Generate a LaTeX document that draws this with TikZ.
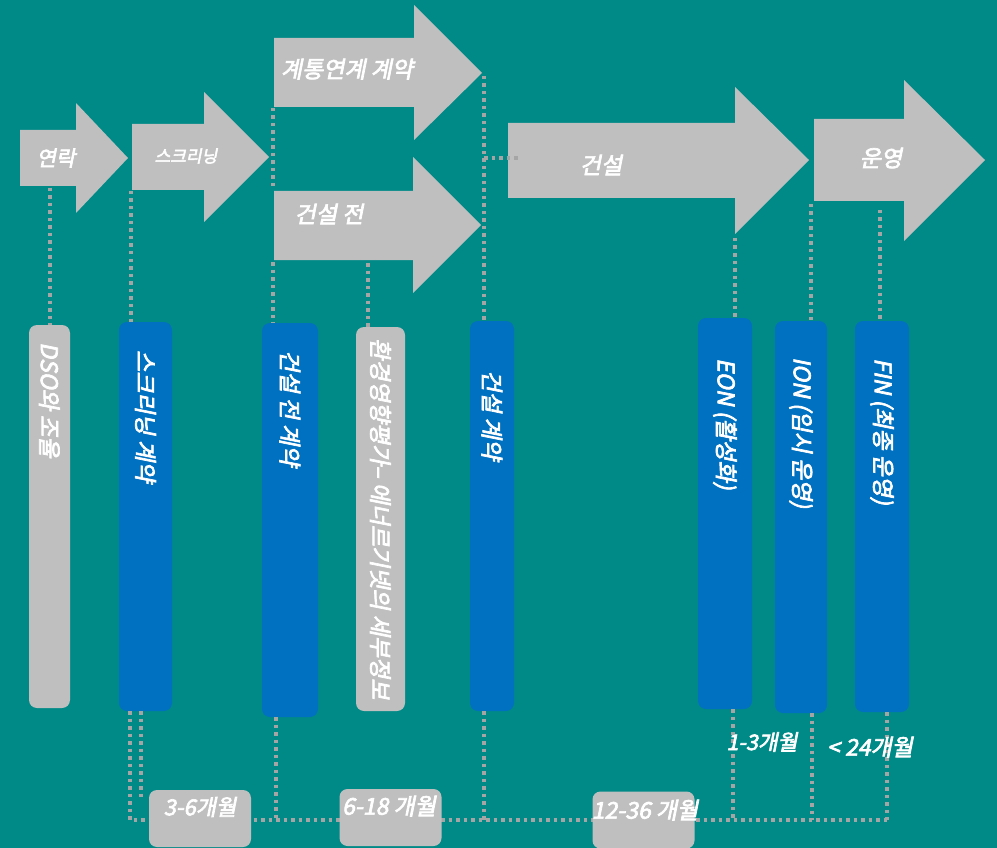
\documentclass[tikz,border=0pt]{standalone}
\usepackage{fontspec}
\newfontfamily\kr[FakeSlant=0.2,FakeBold=3]{Noto Sans CJK KR}
\definecolor{bg}{RGB}{0,138,135}
\definecolor{gr}{RGB}{191,191,191}
\definecolor{dotc}{RGB}{165,165,165}
\definecolor{bl}{RGB}{0,112,192}
\tikzset{
  phase/.style={fill=gr},
  atext/.style={text=white, font=\kr\fontsize{23}{26}\selectfont, inner sep=0},
  vbox/.style={rounded corners=8pt, inner sep=0},
  graybox/.style={vbox, fill=gr},
  bluebox/.style={vbox, fill=bl},
  vtext/.style={text=white, font=\kr\fontsize{23}{26}\selectfont, rotate=-90, anchor=west, inner sep=0},
  dotline/.style={draw=dotc, line width=3.5pt, dash pattern=on 3.5pt off 4pt},
  lblbox/.style={fill=gr, rounded corners=8pt, inner sep=0, minimum width=102, minimum height=57},
  ltext/.style={text=white, font=\kr\fontsize{23}{26}\selectfont, inner sep=0}
}
\begin{document}
\begin{tikzpicture}[x=1pt,y=-1pt]
\fill[bg] (0,0) rectangle (997,848);
\useasboundingbox (0,0) rectangle (997,848);

% arrows
\fill[phase] (20,130) -- (76,130) -- (76,103) -- (128,158) coordinate (a1tip) -- (76,213) -- (76,186) -- (20,186) -- cycle;
\fill[phase] (132,124) -- (204,124) -- (204,92) -- (269,157) coordinate (a2tip) -- (204,222) -- (204,190) -- (132,190) -- cycle;
\fill[phase] (274,38) -- (414,38) -- (414,5) -- (482,73) coordinate (a3tip) -- (414,140) -- (414,107) -- (274,107) -- cycle;
\fill[phase] (274,191) -- (413,191) -- (413,157) -- (481,225) coordinate (a4tip) -- (413,293) -- (413,260) -- (274,260) -- cycle;
\fill[phase] (508,123) -- (735,123) -- (735,87) -- (809,160) coordinate (a5tip) -- (735,234) -- (735,198) -- (508,198) -- cycle;
\fill[phase] (814,119) -- (904,119) -- (904,80) -- (985,160) coordinate (a6tip) -- (904,241) -- (904,201) -- (814,201) -- cycle;

\node[atext, font=\kr\fontsize{21}{24}\selectfont] (t1) at (56,158) {연락};
\node[atext, font=\kr\fontsize{17}{20}\selectfont] (t2) at (186,156) {스크리닝};
\node[atext] (t3) at (347,69) {계통연계 계약};
\node[atext] (t4) at (329,214) {건설 전};
\node[atext] (t5) at (601,165) {건설};
\node[atext] (t6) at (881,158) {운영};

% coordinates for dotted connectors
\coordinate (c1) at (50,188);
\coordinate (c2) at (131,191);
\coordinate (c3a) at (273,108);
\coordinate (c3b) at (273,190);
\coordinate (c3c) at (273,262);
\coordinate (c4) at (368,263);
\coordinate (c5) at (484,76);
\coordinate (c5h) at (520,158);
\coordinate (c6) at (735,238);
\coordinate (c7) at (811,204);
\coordinate (c8) at (880,210);

% vertical boxes
\node[graybox, minimum width=41, minimum height=383] (dso) at (49.5,516.5) {};
\node[bluebox, minimum width=53, minimum height=389] (scr) at (145.5,516.5) {};
\node[bluebox, minimum width=56, minimum height=394] (pre) at (290,520) {};
\node[graybox, minimum width=49, minimum height=384] (env) at (380.5,519) {};
\node[bluebox, minimum width=44, minimum height=390] (con) at (492,516) {};
\node[bluebox, minimum width=54, minimum height=391] (eon) at (725,513.5) {};
\node[bluebox, minimum width=52, minimum height=392] (ion) at (801,517) {};
\node[bluebox, minimum width=54, minimum height=391] (fin) at (882,516.5) {};

\node[vtext] at (49.5,342) {DSO와 조율};
\node[vtext] at (145.5,350) {스크리닝 계약};
\node[vtext] at (290,350) {건설 전 계약};
\node[vtext] at (380.5,338) {환경영향평가– 에너르기넷의 세부정보};
\node[vtext] at (492,370) {건설 계약};
\node[vtext] at (725,358) {EON (활성화)};
\node[vtext] at (801,357) {ION (임시 운영)};
\node[vtext] at (882,358) {FIN (최종 운영)};

% upper dotted connectors
\draw[dotline] (c1) -- (c1 |- dso.north);
\draw[dotline] (c2) -- (c2 |- scr.north);
\draw[dotline] (c3a) -- (c3b);
\draw[dotline] (c3c) -- (c3c |- pre.north);
\draw[dotline] (c4) -- (c4 |- env.north);
\draw[dotline] (c5) -- (c5 |- con.north);
\draw[dotline] (484,158) -- (c5h);
\draw[dotline] (c6) -- (c6 |- eon.north);
\draw[dotline] (c7) -- (c7 |- ion.north);
\draw[dotline] (c8) -- (c8 |- fin.north);

% lower dotted connectors
\coordinate (b1) at (130,820);
\coordinate (b9) at (889,820);
\draw[dotline] (130,711) -- (b1) -- (b9);
\draw[dotline] (141,711) -- (141,800);
\draw[dotline] (pre.south -| 276,0) -- (276,820);
\draw[dotline] (con.south -| 484,0) -- (484,820);
\draw[dotline] (eon.south -| 733,0) -- (733,820);
\draw[dotline] (ion.south -| 812,0) -- (812,820);
\draw[dotline] (fin.south -| 887,0) -- (887,820);

% bottom labels
\node[lblbox] (d1) at (200,818.5) {};
\node[lblbox] (d2) at (390.5,817.5) {};
\node[lblbox] (d3) at (643.5,820) {};
\node[ltext, font=\kr\fontsize{22}{25}\selectfont] at (200,807) {3-6개월};
\node[ltext] at (389,806) {6-18 개월};
\node[ltext] at (645,810) {12-36 개월};
\node[ltext, font=\kr\fontsize{21.5}{24}\selectfont] (m1) at (762,742) {1-3개월};
\node[ltext] (m2) at (870,747) {< 24개월};
\end{tikzpicture}
\end{document}
